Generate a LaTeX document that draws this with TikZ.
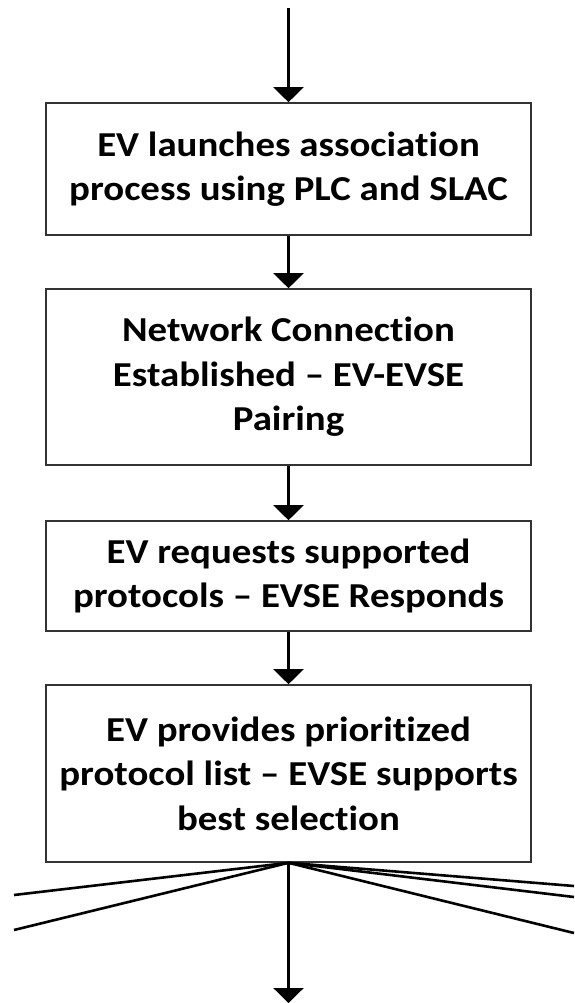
\documentclass[tikz,border=0pt]{standalone}
\usepackage{fontspec}
\setmainfont{Carlito}[Ligatures=NoCommon, FakeStretch=1.11]
\usetikzlibrary{arrows.meta}
\tikzset{
  stepbox/.style={draw=black!80, line width=1.6pt, fill=white, minimum width=485pt,
    align=center, font=\fontsize{35}{44.5}\selectfont\bfseries, inner sep=0pt},
  flow/.style={line width=2.6pt, -{Triangle[width=30pt,length=15pt]}},
  fan/.style={line width=2.6pt}
}
\begin{document}
\begin{tikzpicture}[x=1pt,y=-1pt]
\useasboundingbox (0,0) rectangle (574,1003);
\node[stepbox, minimum height=132pt] (b1) at (288.5,169) {EV launches association\\process using PLC and SLAC};
\node[stepbox, minimum height=176pt] (b2) at (288.5,377) {Network Connection\\Established – EV-EVSE\\Pairing};
\node[stepbox, minimum height=110pt] (b3) at (288.5,576) {EV requests supported\\protocols – EVSE Responds};
\node[stepbox, minimum height=177pt] (b4) at (288.5,773.5) {EV provides prioritized\\protocol list – EVSE supports\\best selection};
\coordinate (top) at (288.5,8);
\coordinate (bottom) at (288.5,1003);
\coordinate (l1) at (14,895);
\coordinate (l2) at (14,930);
\coordinate (r1) at (574,886);
\coordinate (r2) at (574,897);
\coordinate (r3) at (574,933);
\draw[flow] (top) -- (b1.north);
\draw[flow] (b1.south) -- (b2.north);
\draw[flow] (b2.south) -- (b3.north);
\draw[flow] (b3.south) -- (b4.north);
\draw[flow] (b4.south) -- (bottom);
\foreach \e in {l1,l2,r1,r2,r3} \draw[fan] (b4.south) -- (\e);
\end{tikzpicture}
\end{document}
